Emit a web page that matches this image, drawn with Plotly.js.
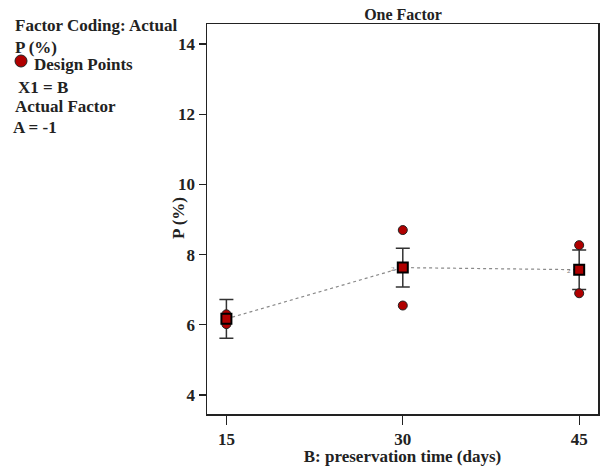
<!DOCTYPE html>
<html><head><meta charset="utf-8">
<script src="https://cdn.plot.ly/plotly-3.0.1.min.js"></script>
<style>html,body{margin:0;padding:0;background:#fff}#chart{width:604px;height:466px}</style>
</head><body><div id="chart"></div>
<script>
// Data
const levels = [15, 30, 45];
const meanP = [6.17, 7.63, 7.57];
const ciHalf = [0.55, 0.55, 0.56];
const designX = [15, 15, 15, 30, 30, 30, 30, 45, 45, 45, 45];
const designP = [6.30, 6.20, 6.02, 8.70, 6.55, 7.63, 7.63, 8.27, 6.90, 7.56, 7.56];
const repLabelX = [30, 45];
const repLabelY = [7.63, 7.57];
const repLabelText = ['2', '2'];
const yTicks = [4, 6, 8, 10, 12, 14];
const xTicks = [15, 30, 45];

const F = 'Liberation Serif, Times New Roman, serif';
const red = '#b00000';

const traces = [
  { x: levels, y: meanP, mode: 'lines', type: 'scatter',
    line: {color: '#8a8a8a', width: 1.2, dash: 'dot'}, hoverinfo: 'skip', showlegend: false },
  { x: levels, y: meanP, mode: 'markers', type: 'scatter',
    error_y: {type: 'data', array: ciHalf, visible: true, color: '#333', thickness: 1.5, width: 7},
    marker: {symbol: 'square', size: 1, color: 'rgba(0,0,0,0)'}, showlegend: false },
  { x: designX, y: designP, mode: 'markers', type: 'scatter',
    marker: {symbol: 'circle', size: 9, color: red, line: {color: '#222', width: 1}}, showlegend: false },
  { x: levels, y: meanP, mode: 'markers', type: 'scatter',
    marker: {symbol: 'square', size: 10, color: red, line: {color: '#000', width: 2}}, showlegend: false }
];

const leftTxt = [
  ['Factor Coding: Actual', 13, 26],
  ['P (%)', 13, 47],
  ['Design Points', 32, 65],
  ['X1 = B', 16, 87],
  ['Actual Factor', 13, 106],
  ['A = -1', 11, 128]
];
const ann = leftTxt.map(t => ({
  text: t[0], xref: 'paper', yref: 'paper', x: (t[1] - 207) / 391, y: 1 - (t[2] - 24) / 390,
  xanchor: 'left', yanchor: 'middle', showarrow: false,
  font: {family: F, size: 17, color: '#222', weight: 'bold'}
}));
repLabelX.forEach((x, i) => ann.push({
  text: repLabelText[i], x: x, y: repLabelY[i], xref: 'x', yref: 'y', showarrow: false,
  xshift: -10, yshift: -1, font: {family: F, size: 7, color: '#777'}
}));
// y-axis title placed as an annotation for exact position
ann.push({
  text: '<b>P (%)</b>', xref: 'paper', yref: 'paper', x: (178 - 207) / 391, y: 1 - (218 - 24) / 390,
  xanchor: 'center', yanchor: 'middle', textangle: -90, showarrow: false,
  font: {family: F, size: 17, color: '#222'}
});

const shapes = [{
  type: 'circle', xref: 'paper', yref: 'paper',
  x0: (15 - 207) / 391, x1: (27 - 207) / 391, y0: 1 - (67 - 24) / 390, y1: 1 - (55 - 24) / 390,
  fillcolor: red, line: {color: '#222', width: 1}
}];

const layout = {
  width: 604, height: 466,
  margin: {l: 207, r: 6, t: 24, b: 52},
  paper_bgcolor: '#fff', plot_bgcolor: '#fff',
  title: {text: '<b>One Factor</b>', font: {family: F, size: 16, color: '#222'},
    x: 403 / 604, xanchor: 'center', xref: 'container', y: 1 - 14 / 466, yref: 'container', yanchor: 'middle'},
  xaxis: {range: [13.35, 46.6], tickvals: xTicks, ticks: 'outside', ticklen: 9, tickwidth: 1.2, tickcolor: '#222',
    showline: true, linecolor: '#222', linewidth: 1.5, mirror: true, showgrid: false, zeroline: false,
    tickfont: {family: F, size: 17, color: '#222', weight: 'bold'},
    title: {text: '<b>B: preservation time (days)</b>', font: {family: F, size: 17, color: '#222'}, standoff: 0}},
  yaxis: {range: [3.46, 14.57], tickvals: yTicks, ticks: 'outside', ticklen: 7, tickwidth: 1.2, tickcolor: '#222',
    showline: true, linecolor: '#222', linewidth: 1.5, mirror: true, showgrid: false, zeroline: false,
    tickfont: {family: F, size: 17, color: '#222', weight: 'bold'}},
  annotations: ann,
  shapes: shapes,
  showlegend: false
};

Plotly.newPlot('chart', traces, layout, {displayModeBar: false, staticPlot: true});
</script></body></html>
